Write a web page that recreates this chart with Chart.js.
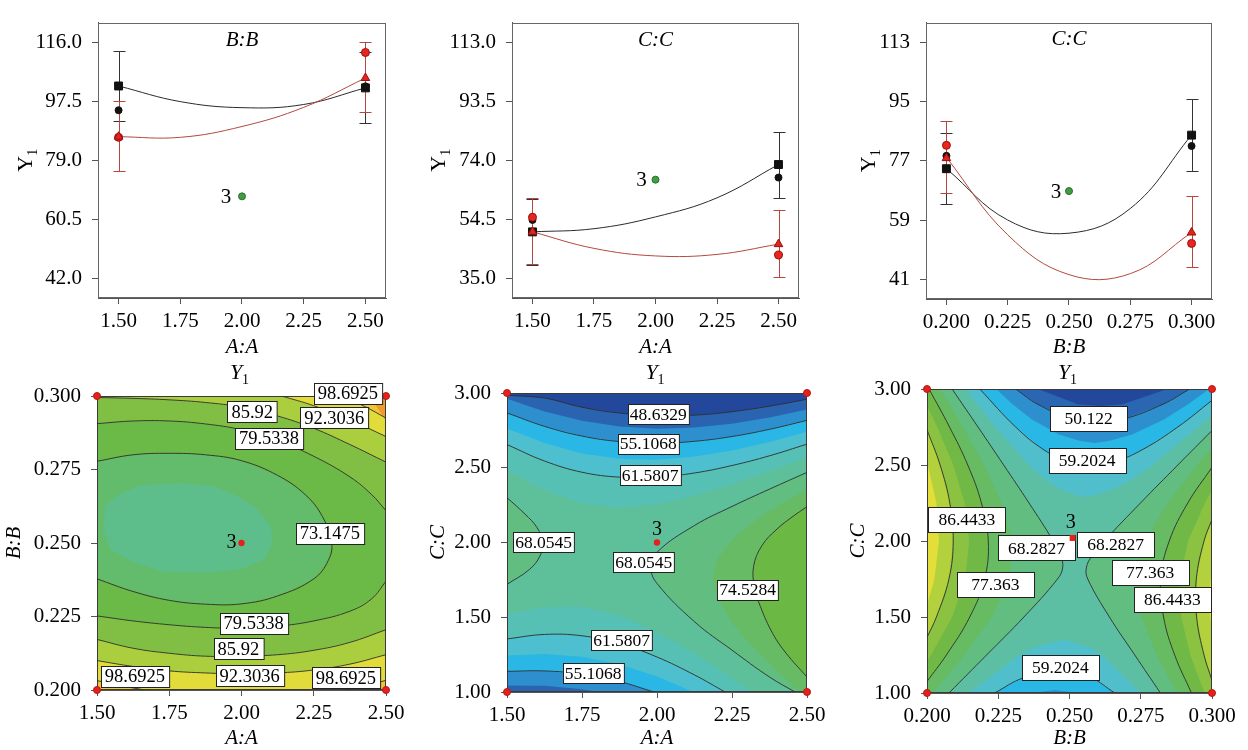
<!DOCTYPE html>
<html>
<head>
<meta charset="utf-8">
<title>Y1 response plots</title>
<script src="https://cdn.jsdelivr.net/npm/chart.js@4.4.1/dist/chart.umd.min.js"></script>
<style>
  html, body { margin: 0; padding: 0; background: #ffffff; }
  #page { position: relative; width: 1248px; height: 750px; overflow: hidden; }
  #page canvas { position: absolute; }
</style>
</head>
<body>
<div id="page">
  <canvas id="tl" width="416" height="360" style="left:0px;top:0px"></canvas>
  <canvas id="tm" width="416" height="360" style="left:416px;top:0px"></canvas>
  <canvas id="tr" width="416" height="360" style="left:832px;top:0px"></canvas>
  <canvas id="bl" width="416" height="390" style="left:0px;top:360px"></canvas>
  <canvas id="bm" width="416" height="390" style="left:416px;top:360px"></canvas>
  <canvas id="br" width="416" height="390" style="left:832px;top:360px"></canvas>
</div>
<script>
// ---------- axis ticks ----------
const A_TICKS = [1.5, 1.75, 2.0, 2.25, 2.5];
const B_TICKS = [0.2, 0.225, 0.25, 0.275, 0.3];
const C_TICKS = [1.0, 1.5, 2.0, 2.5, 3.0];

// ---------- top left : Y1 over A, B low (black) / B high (red) ----------
const TL_X = [1.5, 1.75, 2.0, 2.25, 2.5];
const TL_Y_TICKS = [42.0, 60.5, 79.0, 97.5, 116.0];
const TL_BLACK = [102.3, 97.4, 95.5, 96.5, 101.7];
const TL_RED = [86.4, 86.2, 89.6, 95.6, 104.8];
const TL_BLACK_SQ = [[1.5, 102.3], [2.5, 101.7]];
const TL_BLACK_DOT = [[1.5, 94.7], [2.5, 102.2]];
const TL_RED_DOT = [[1.5, 86.2], [2.5, 112.8]];
const TL_RED_TRI = [[1.5, 86.4], [2.5, 104.8]];
const TL_ERR_BLACK = [[1.5, 91.3, 113.2], [2.5, 90.8, 112.8]];
const TL_ERR_RED = [[1.5, 75.6, 97.5], [2.5, 94.1, 116.1]];
const TL_CENTER = [2.0, 67.7];

// ---------- top middle : Y1 over A, C low (black) / C high (red) ----------
const TM_X = [1.5, 1.75, 2.0, 2.25, 2.5];
const TM_Y_TICKS = [35.0, 54.5, 74.0, 93.5, 113.0];
const TM_BLACK = [50.35, 51.4, 55.3, 61.6, 72.6];
const TM_RED = [50.35, 44.9, 42.4, 42.9, 46.3];
const TM_BLACK_SQ = [[1.5, 50.35], [2.5, 72.6]];
const TM_BLACK_DOT = [[1.5, 54.3], [2.5, 68.3]];
const TM_RED_DOT = [[1.5, 55.2], [2.5, 42.7]];
const TM_RED_TRI = [[1.5, 50.35], [2.5, 46.3]];
const TM_ERR_BLACK = [[1.5, 39.5, 61.2], [2.5, 61.7, 83.5]];
const TM_ERR_RED = [[1.5, 39.7, 61.5], [2.5, 35.6, 57.5]];
const TM_CENTER = [2.0, 67.6];

// ---------- top right : Y1 over B, C low (black) / C high (red) ----------
const TR_X = [0.2, 0.225, 0.25, 0.275, 0.3];
const TR_Y_TICKS = [41, 59, 77, 95, 113];
const TR_BLACK = [74.6, 59.0, 55.0, 62.5, 84.8];
const TR_RED = [78.0, 54.5, 42.4, 42.7, 55.2];
const TR_BLACK_SQ = [[0.2, 74.6], [0.3, 84.8]];
const TR_BLACK_DOT = [[0.2, 78.5], [0.3, 81.5]];
const TR_RED_DOT = [[0.2, 81.7], [0.3, 51.9]];
const TR_RED_TRI = [[0.2, 77.8], [0.3, 55.2]];
const TR_ERR_BLACK = [[0.2, 63.8, 85.3], [0.3, 73.9, 95.8]];
const TR_ERR_RED = [[0.2, 67.2, 89.2], [0.3, 44.6, 66.45]];
const TR_CENTER = [0.25, 67.8];

// ---------- bottom left : contours of Y1 over A (x) and B (y) ----------
const BL_C73 = [[1.5,0.2778],[1.625,0.2800],[1.75,0.2805],[1.875,0.2800],[2.0,0.2780],[2.125,0.2730],[2.22,0.2665],[2.28,0.2590],[2.312,0.2500],[2.30,0.2440],[2.25,0.2378],[2.125,0.2320],[2.0,0.2293],[1.875,0.2292],[1.75,0.2305],[1.625,0.2335],[1.5,0.2378]];
const BL_C79_UP = [[1.5,0.2906],[1.625,0.2915],[1.75,0.2915],[1.875,0.2905],[2.0,0.2885],[2.125,0.2848],[2.25,0.2795],[2.375,0.2725],[2.45,0.2665],[2.5,0.2610]];
const BL_C79_LO = [[2.5,0.2370],[2.45,0.2310],[2.375,0.2268],[2.25,0.2235],[2.125,0.2217],[2.0,0.2210],[1.875,0.2213],[1.75,0.2222],[1.625,0.2235],[1.5,0.2252]];
const BL_C86_UP = [[1.5,0.2995],[1.625,0.2992],[1.75,0.2987],[1.875,0.2978],[2.0,0.2962],[2.125,0.2932],[2.25,0.2890],[2.375,0.2835],[2.5,0.2775]];
const BL_C86_LO = [[2.5,0.2205],[2.375,0.2162],[2.25,0.2135],[2.125,0.2120],[2.0,0.2115],[1.875,0.2115],[1.75,0.2125],[1.625,0.2142],[1.5,0.2172]];
const BL_C92_UP = [[2.139,0.3],[2.25,0.2967],[2.375,0.2919],[2.5,0.2862]];
const BL_C92_LO = [[2.5,0.2120],[2.375,0.2088],[2.25,0.2068],[2.125,0.2058],[2.0,0.2055],[1.875,0.2058],[1.75,0.2065],[1.625,0.2080],[1.5,0.2100]];
const BL_C98_TR = [[2.347,0.3],[2.425,0.2965],[2.5,0.2925]];
const BL_C98_BL = [[1.5,0.2032],[1.575,0.2016],[1.666,0.2]];
const BL_C98_BR = [[2.358,0.2],[2.425,0.2013],[2.5,0.2033]];
const BL_TEAL = [[1.523,0.2547],[1.529,0.2626],[1.569,0.2660],[1.65,0.2697],[1.789,0.2703],[1.905,0.2694],[1.986,0.2660],[2.055,0.2615],[2.101,0.2558],[2.107,0.2502],[2.078,0.2445],[1.997,0.2411],[1.882,0.2400],[1.731,0.2402],[1.627,0.2434],[1.546,0.2479]];
const BL_ORANGE = [[2.44,0.3],[2.5,0.3],[2.5,0.2915],[2.47,0.296]];
const BL_LABELS = [
  ['98.6925', 2.368, 0.3010], ['85.92', 2.037, 0.2946], ['92.3036', 2.321, 0.2926],
  ['79.5338', 2.095, 0.2857], ['73.1475', 2.306, 0.2532], ['79.5338', 2.042, 0.2227],
  ['85.92', 1.989, 0.2140], ['98.6925', 1.631, 0.2047], ['92.3036', 2.028, 0.2048],
  ['98.6925', 2.361, 0.2041]
];

// ---------- bottom middle : contours of Y1 over A (x) and C (y) ----------
const BM_C48 = [[1.5,2.985],[1.625,2.966],[1.75,2.905],[1.875,2.866],[2.0,2.852],[2.125,2.852],[2.25,2.875],[2.375,2.912],[2.5,2.958]];
const BM_C55_UP = [[1.5,2.867],[1.625,2.777],[1.75,2.712],[1.875,2.675],[2.0,2.664],[2.125,2.677],[2.25,2.709],[2.375,2.757],[2.5,2.817]];
const BM_C55_LO = [[1.5,1.138],[1.625,1.141],[1.75,1.119],[1.875,1.070],[1.99,1.0]];
const BM_C61_UP = [[1.5,2.655],[1.625,2.545],[1.75,2.470],[1.875,2.437],[2.0,2.437],[2.125,2.465],[2.25,2.515],[2.375,2.580],[2.5,2.658]];
const BM_C61_LO = [[1.5,1.355],[1.625,1.385],[1.75,1.376],[1.875,1.324],[2.0,1.234],[2.125,1.114],[2.227,1.0]];
const BM_C68_L = [[1.5,2.30],[1.56,2.19],[1.60,2.10],[1.62,2.0],[1.61,1.91],[1.575,1.82],[1.5,1.72]];
const BM_C68_R = [[2.5,2.469],[2.375,2.357],[2.25,2.241],[2.125,2.114],[2.0,1.935],[1.98,1.83],[2.0,1.726],[2.125,1.47],[2.25,1.28],[2.375,1.10],[2.46,1.0]];
const BM_C74 = [[2.5,2.24],[2.45,2.17],[2.4,2.09],[2.35,1.98],[2.322,1.84],[2.325,1.70],[2.345,1.57],[2.386,1.39],[2.43,1.26],[2.5,1.10]];
const BM_B52_UP = [[1.5,2.962],[1.625,2.876],[1.75,2.814],[1.875,2.776],[2.0,2.761],[2.125,2.769],[2.25,2.794],[2.375,2.836],[2.5,2.889]];
const BM_B52_LO = [[1.5,1.044],[1.625,1.042],[1.75,1.018],[1.803,1.0]];
const BM_B58_UP = [[1.5,2.762],[1.625,2.665],[1.75,2.596],[1.875,2.56],[2.0,2.554],[2.125,2.575],[2.25,2.616],[2.375,2.673],[2.5,2.74]];
const BM_B58_LO = [[1.5,1.2435],[1.625,1.254],[1.75,1.235],[1.875,1.185],[2.0,1.104],[2.121,1.0]];
const BM_B65_UP = [[1.5,2.485],[1.625,2.352],[1.75,2.262],[1.875,2.231],[2.0,2.256],[2.125,2.314],[2.25,2.39],[2.375,2.477],[2.5,2.568]];
const BM_B65_LO = [[1.5,1.521],[1.625,1.567],[1.75,1.570],[1.875,1.513],[2.0,1.402],[2.125,1.257],[2.25,1.094],[2.318,1.0]];
const BM_B71 = [[2.5,2.356],[2.375,2.21],[2.3125,2.125],[2.25,2.02],[2.2,1.884],[2.185,1.76],[2.2,1.635],[2.25,1.465],[2.3125,1.315],[2.375,1.187],[2.475,1.0]];
const BM_LABELS = [
  ['48.6329', 2.004, 2.858], ['55.1068', 1.971, 2.662], ['61.5807', 1.977, 2.452],
  ['68.0545', 1.622, 2.001], ['68.0545', 1.956, 1.868], ['74.5284', 2.302, 1.683],
  ['61.5807', 1.882, 1.347], ['55.1068', 1.787, 1.126]
];

// ---------- bottom right : contours of Y1 over B (x) and C (y) ----------
const BR_C50 = [[0.2311,3.0],[0.2388,2.9],[0.2515,2.8],[0.260,2.79],[0.2685,2.8],[0.2828,2.9],[0.2922,3.0]];
const BR_C59_UP = [[0.2185,3.0],[0.2311,2.75],[0.241,2.6],[0.2497,2.52],[0.2574,2.495],[0.2655,2.52],[0.2755,2.6],[0.288,2.75],[0.3,2.925]];
const BR_C59_LO = [[0.2237,1.0],[0.2339,1.1],[0.2455,1.14],[0.2573,1.1],[0.2659,1.0]];
const BR_C68_L = [[0.2088,3.0],[0.2179,2.75],[0.2269,2.5],[0.2358,2.25],[0.2443,2.0],[0.247,1.9],[0.2476,1.823],[0.2458,1.75],[0.234,1.5],[0.2209,1.25],[0.2077,1.0]];
const BR_C68_R = [[0.3,2.7265],[0.288,2.5],[0.2749,2.25],[0.2622,2.0],[0.2578,1.9],[0.2559,1.823],[0.2564,1.75],[0.264,1.5],[0.2729,1.25],[0.2819,1.0]];
const BR_C77_L = [[0.2007,3.0],[0.2079,2.75],[0.2143,2.5],[0.2191,2.25],[0.2215,2.0],[0.2202,1.75],[0.215,1.5],[0.2068,1.25],[0.2,1.076]];
const BR_C77_R = [[0.3,2.485],[0.2915,2.25],[0.285,2.0],[0.282,1.75],[0.283,1.5],[0.2869,1.25],[0.2928,1.0]];
const BR_C86_L = [[0.2,2.732],[0.2046,2.5],[0.208,2.25],[0.2092,2.0],[0.2077,1.75],[0.2033,1.5],[0.2,1.366]];
const BR_C86_R = [[0.3,2.142],[0.2972,2.0],[0.2945,1.75],[0.2946,1.5],[0.2972,1.25],[0.3,1.083]];
const BR_B46 = [[0.239,3.0],[0.2529,2.9],[0.261,2.888],[0.2687,2.9],[0.2843,3.0]];
const BR_B55 = [[0.2243,3.0],[0.23,2.9],[0.2368,2.8],[0.2463,2.7],[0.2535,2.66],[0.2588,2.645],[0.2641,2.66],[0.272,2.7],[0.2831,2.8],[0.2916,2.9],[0.299,3.0]];
const BR_B55_LO = [[0.2366,1.0],[0.245,1.02],[0.253,1.0]];
const BR_B64_UP = [[0.2134,3.0],[0.2239,2.75],[0.2357,2.5],[0.2418,2.4],[0.2457,2.35],[0.2528,2.3],[0.2558,2.29],[0.2587,2.3],[0.2666,2.35],[0.2714,2.4],[0.2791,2.5],[0.2952,2.75],[0.3,2.83]];
const BR_B64_LO = [[0.2146,1.0],[0.2324,1.25],[0.2373,1.3],[0.2478,1.352],[0.2574,1.3],[0.2614,1.25],[0.275,1.0]];
const BR_B73_L = [[0.2046,3.0],[0.2126,2.75],[0.22,2.5],[0.2262,2.25],[0.2299,2.0],[0.2289,1.75],[0.2228,1.5],[0.2131,1.25],[0.2019,1.0]];
const BR_B73_R = [[0.3,2.613],[0.2948,2.5],[0.2844,2.25],[0.2765,2.0],[0.2733,1.75],[0.2753,1.5],[0.2806,1.25],[0.2877,1.0]];
const BR_B82_L = [[0.2,2.889],[0.2036,2.75],[0.2092,2.5],[0.2132,2.25],[0.2148,2.0],[0.2134,1.75],[0.2088,1.5],[0.2014,1.25],[0.2,1.209]];
const BR_B82_R = [[0.3,2.334],[0.2975,2.25],[0.2916,2.0],[0.2888,1.75],[0.2892,1.5],[0.2924,1.25],[0.2974,1.0]];
const BR_B91_L = [[0.2,2.523],[0.2033,2.25],[0.2042,2.0],[0.2026,1.75],[0.2,1.575]];
const BR_B91_R = [[0.3,1.81],[0.2985,1.61],[0.3,1.415]];
const BR_LABELS = [
  ['50.122', 0.2567, 2.807], ['59.2024', 0.2562, 2.527], ['86.4433', 0.2140, 2.142],
  ['68.2827', 0.2384, 1.954], ['68.2827', 0.2662, 1.979], ['77.363', 0.2240, 1.712],
  ['77.363', 0.2783, 1.795], ['86.4433', 0.2861, 1.618], ['59.2024', 0.2468, 1.170]
];

// ---------- helpers ----------
const SERIF = "'Liberation Serif', 'Times New Roman', serif";
Chart.defaults.font.family = SERIF;
Chart.defaults.font.size = 21;
Chart.defaults.color = '#000';
Chart.defaults.animation = false;

const xy = arr => arr.map(p => ({x: p[0], y: p[1]}));
const pairs = (xs, ys) => xs.map((x, i) => ({x: x, y: ys[i]}));

function linAxis(range, ticks, dec, fitKey, fitSize) {
  return {
    type: 'linear', min: range[0], max: range[1],
    afterBuildTicks: s => { s.ticks = ticks.map(v => ({value: v})); },
    afterFit: s => { s[fitKey] = fitSize; },
    ticks: {callback: v => Number(v).toFixed(dec), autoSkip: false, maxRotation: 0, minRotation: 0,
            padding: fitKey === 'width' ? 10 : 5, color: '#000', font: {size: 21}},
    grid: {display: true, drawOnChartArea: false, drawTicks: true, tickLength: 6, tickColor: '#555'},
    border: {display: true, color: '#555', width: 1}
  };
}

function text(ctx, s, x, y, font, align) {
  ctx.font = font;
  ctx.textAlign = align || 'center';
  ctx.textBaseline = 'middle';
  ctx.fillStyle = '#000';
  ctx.fillText(s, x, y);
}

function rotText(ctx, s, x, y, font) {
  ctx.save();
  ctx.translate(x, y);
  ctx.rotate(-Math.PI / 2);
  text(ctx, s, 0, 0, font);
  ctx.restore();
}

// "Y" with a subscript 1
function yOne(ctx, x, y, rotate, italic) {
  ctx.save();
  ctx.translate(x, y);
  if (rotate) ctx.rotate(-Math.PI / 2);
  const big = (italic ? 'italic ' : '') + '22px ' + SERIF;
  const small = '14px ' + SERIF;
  ctx.font = big;
  const wY = ctx.measureText('Y').width;
  ctx.font = small;
  const w1 = ctx.measureText('1').width;
  const x0 = -(wY + w1) / 2;
  ctx.fillStyle = '#000';
  ctx.textAlign = 'left';
  ctx.textBaseline = 'alphabetic';
  ctx.font = big;
  ctx.fillText('Y', x0, 7);
  ctx.font = small;
  ctx.fillText('1', x0 + wY, 12);
  ctx.restore();
}

function frame(chart, color) {
  const {ctx, chartArea: a} = chart;
  ctx.save();
  ctx.strokeStyle = color;
  ctx.lineWidth = 1;
  ctx.strokeRect(Math.round(a.left) + 0.5, Math.round(a.top) + 0.5,
                 Math.round(a.right - a.left) - 1, Math.round(a.bottom - a.top) - 1);
  ctx.restore();
}

function errorBars(chart, bars, color) {
  const {ctx, scales} = chart;
  ctx.save();
  ctx.strokeStyle = color;
  ctx.lineWidth = 1;
  bars.forEach(b => {
    const px = Math.round(scales.x.getPixelForValue(b[0])) + 0.5;
    const lo = Math.round(scales.y.getPixelForValue(b[1])) + 0.5;
    const hi = Math.round(scales.y.getPixelForValue(b[2])) + 0.5;
    ctx.beginPath();
    ctx.moveTo(px, lo); ctx.lineTo(px, hi);
    ctx.moveTo(px - 6, lo); ctx.lineTo(px + 6, lo);
    ctx.moveTo(px - 6, hi); ctx.lineTo(px + 6, hi);
    ctx.stroke();
  });
  ctx.restore();
}

// ---------- top row ----------
function interactionPlot(p) {
  const deco = {
    id: 'deco',
    beforeDatasetsDraw(chart) {
      errorBars(chart, p.errBlack, '#333333');
      errorBars(chart, p.errRed, '#b5473f');
    },
    afterDraw(chart) {
      const {ctx, chartArea: a, scales} = chart;
      frame(chart, '#666');
      const cx = (a.left + a.right) / 2;
      text(ctx, p.title, cx, a.top + p.titleDy, 'italic 21px ' + SERIF);
      text(ctx, p.xTitle, cx, a.bottom + p.xTitleDy, 'italic 21px ' + SERIF);
      yOne(ctx, a.left - p.yTitleDx, (a.top + a.bottom) / 2, true, false);
      const px = scales.x.getPixelForValue(p.center[0]);
      const py = scales.y.getPixelForValue(p.center[1]);
      text(ctx, '3', px + p.threeDx, py + 1, '21px ' + SERIF);
    }
  };
  new Chart(document.getElementById(p.id), {
    type: 'scatter',
    data: {datasets: [
      {data: xy([p.center]), pointRadius: 3.5, backgroundColor: '#3f9e42', borderColor: '#2c6e2c', borderWidth: 1},
      {data: xy(p.tri), pointStyle: 'triangle', pointRadius: 5, backgroundColor: '#e2241c', borderColor: '#9a1010', borderWidth: 1},
      {data: xy(p.rdot), pointRadius: 4, backgroundColor: '#e8261f', borderColor: '#9a1010', borderWidth: 1},
      {data: xy(p.dot), pointRadius: 3.5, backgroundColor: '#111', borderColor: '#111', borderWidth: 1},
      {data: xy(p.sq), pointStyle: 'rect', pointRadius: 5.6, backgroundColor: '#111', borderColor: '#111', borderWidth: 1},
      {type: 'line', data: pairs(p.x, p.red), borderColor: '#b3483f', borderWidth: 1, pointRadius: 0, tension: 0.4, fill: false},
      {type: 'line', data: pairs(p.x, p.black), borderColor: '#2b2b2b', borderWidth: 1, pointRadius: 0, tension: 0.4, fill: false}
    ]},
    options: {
      responsive: false, animation: false,
      layout: {padding: {left: 0, top: p.box[1], right: p.box[2], bottom: 0}},
      plugins: {legend: {display: false}, tooltip: {enabled: false}},
      scales: {
        x: linAxis(p.xRange, p.xTicks, p.xDec, 'height', p.box[3]),
        y: linAxis(p.yRange, p.yTicks, p.yDec, 'width', p.box[0])
      }
    },
    plugins: [deco]
  });
}

[
  {id: 'tl', title: 'B:B', xTitle: 'A:A', x: TL_X, black: TL_BLACK, red: TL_RED, sq: TL_BLACK_SQ, dot: TL_BLACK_DOT,
   rdot: TL_RED_DOT, tri: TL_RED_TRI, errBlack: TL_ERR_BLACK, errRed: TL_ERR_RED, center: TL_CENTER,
   xRange: [1.41667, 2.58333], yRange: [35.83, 122.17], xTicks: A_TICKS, xDec: 2, yTicks: TL_Y_TICKS, yDec: 1,
   box: [98, 5, 30, 62], titleDy: 18, xTitleDy: 49, yTitleDx: 73, threeDx: -16},
  {id: 'tm', title: 'C:C', xTitle: 'A:A', x: TM_X, black: TM_BLACK, red: TM_RED, sq: TM_BLACK_SQ, dot: TM_BLACK_DOT,
   rdot: TM_RED_DOT, tri: TM_RED_TRI, errBlack: TM_ERR_BLACK, errRed: TM_ERR_RED, center: TM_CENTER,
   xRange: [1.41667, 2.58333], yRange: [28.5, 119.5], xTicks: A_TICKS, xDec: 2, yTicks: TM_Y_TICKS, yDec: 1,
   box: [96, 5, 33, 62], titleDy: 18, xTitleDy: 49, yTitleDx: 74, threeDx: -14},
  {id: 'tr', title: 'C:C', xTitle: 'B:B', x: TR_X, black: TR_BLACK, red: TR_RED, sq: TR_BLACK_SQ, dot: TR_BLACK_DOT,
   rdot: TR_RED_DOT, tri: TR_RED_TRI, errBlack: TR_ERR_BLACK, errRed: TR_ERR_RED, center: TR_CENTER,
   xRange: [0.191667, 0.308333], yRange: [35, 119], xTicks: B_TICKS, xDec: 3, yTicks: TR_Y_TICKS, yDec: 0,
   box: [94, 5, 36, 61], titleDy: 17, xTitleDy: 48, yTitleDx: 58, threeDx: -13}
].forEach(interactionPlot);

// ---------- bottom row ----------
function contourPlot(p) {
  const path = (chart, pts) => {
    const {ctx, scales} = chart;
    ctx.beginPath();
    pts.forEach((q, i) => {
      const px = scales.x.getPixelForValue(q[0]);
      const py = scales.y.getPixelForValue(q[1]);
      if (i === 0) ctx.moveTo(px, py); else ctx.lineTo(px, py);
    });
    ctx.closePath();
  };
  const deco = {
    id: 'deco',
    beforeDatasetsDraw(chart) {
      const {ctx, chartArea: a} = chart;
      ctx.save();
      ctx.beginPath();
      ctx.rect(a.left, a.top, a.right - a.left, a.bottom - a.top);
      ctx.clip();
      p.bands.forEach(b => { path(chart, b[1]); ctx.fillStyle = b[0]; ctx.fill(); });
      ctx.restore();
      frame(chart, '#3a3a3a');
    },
    afterDatasetsDraw(chart) {
      const {ctx, scales} = chart;
      ctx.save();
      p.labels.forEach(l => {
        const px = scales.x.getPixelForValue(l[1]);
        const py = scales.y.getPixelForValue(l[2]);
        ctx.font = p.labelFont + 'px ' + SERIF;
        const w = p.labelW || (ctx.measureText(l[0]).width + 2 * p.labelPad);
        const h = p.labelH;
        const left = Math.round(px - w / 2) + 0.5, top = Math.round(py - h / 2) + 0.5;
        ctx.fillStyle = '#fff';
        ctx.fillRect(left, top, w, h);
        ctx.strokeStyle = '#222';
        ctx.lineWidth = 1;
        ctx.strokeRect(left, top, w, h);
        text(ctx, l[0], px, py + 1, p.labelFont + 'px ' + SERIF);
      });
      // centre run of the design, drawn on top of the labels
      const cx = scales.x.getPixelForValue(p.center[0]);
      const cy = scales.y.getPixelForValue(p.center[1]);
      ctx.fillStyle = '#e3211d';
      ctx.beginPath();
      if (p.centerStyle === 'rect') ctx.rect(cx - 3, cy - 3, 6, 6);
      else ctx.arc(cx, cy, 3.2, 0, Math.PI * 2);
      ctx.fill();
      text(ctx, '3', cx + p.three[0], cy + p.three[1], '20px ' + SERIF);
      ctx.restore();
    },
    afterDraw(chart) {
      const {ctx, chartArea: a} = chart;
      const cx = (a.left + a.right) / 2;
      yOne(ctx, cx - 2, a.top - p.topDy, false, true);
      text(ctx, p.xTitle, cx, a.bottom + p.xTitleDy, 'italic 21px ' + SERIF);
      rotText(ctx, p.yTitle, a.left - p.yTitleDx, (a.top + a.bottom) / 2, 'italic 21px ' + SERIF);
    }
  };
  const corners = [[p.xRange[0], p.yRange[0]], [p.xRange[0], p.yRange[1]], [p.xRange[1], p.yRange[0]], [p.xRange[1], p.yRange[1]]];
  new Chart(document.getElementById(p.id), {
    type: 'scatter',
    data: {datasets: [
      {data: xy(corners), pointRadius: 3.5, backgroundColor: '#e3211d', borderColor: '#c01515', borderWidth: 1, clip: false}
    ].concat(p.lines.map(l => ({
      type: 'line', data: xy(l), borderColor: '#2e2e2e', borderWidth: 0.9, pointRadius: 0, tension: 0.4, fill: false
    })))},
    options: {
      responsive: false, animation: false,
      layout: {padding: {left: 0, top: p.box[1], right: p.box[2], bottom: 0}},
      plugins: {legend: {display: false}, tooltip: {enabled: false}},
      scales: {
        x: linAxis(p.xRange, p.xTicks, p.xDec, 'height', p.box[3]),
        y: linAxis(p.yRange, p.yTicks, p.yDec, 'width', p.box[0])
      }
    },
    plugins: [deco]
  });
}

contourPlot({
  id: 'bl', xTitle: 'A:A', yTitle: 'B:B', xRange: [1.5, 2.5], yRange: [0.2, 0.3],
  xTicks: A_TICKS, xDec: 2, yTicks: B_TICKS, yDec: 3, box: [97, 36, 30, 60],
  topDy: 24, xTitleDy: 48, yTitleDx: 83, center: [2.0, 0.25], centerStyle: 'circle', three: [-10, 0],
  labels: BL_LABELS, labelFont: 18.5, labelPad: 4, labelH: 21,
  lines: [BL_C73, BL_C79_UP, BL_C79_LO, BL_C86_UP, BL_C86_LO, BL_C92_UP, BL_C92_LO, BL_C98_TR, BL_C98_BL, BL_C98_BR],
  bands: [
    ['#e2dc3a', [[1.5, 0.2], [1.5, 0.3], [2.5, 0.3], [2.5, 0.2]]],
    ['#efc436', BL_C98_TR.concat([[2.5, 0.3]])],
    ['#efc436', BL_C98_BL.concat([[1.5, 0.2]])],
    ['#efc436', BL_C98_BR.concat([[2.5, 0.2]])],
    ['#f19a2c', BL_ORANGE],
    ['#abce3e', [[1.5, 0.3]].concat(BL_C92_UP, BL_C92_LO)],
    ['#80bf44', BL_C86_UP.concat(BL_C86_LO)],
    ['#6bb947', BL_C79_UP.concat(BL_C79_LO)],
    ['#63bc6c', BL_C73],
    ['#5ebe8b', BL_TEAL]
  ]
});

contourPlot({
  id: 'bm', xTitle: 'A:A', yTitle: 'C:C', xRange: [1.5, 2.5], yRange: [1.0, 3.0],
  xTicks: A_TICKS, xDec: 2, yTicks: C_TICKS, yDec: 2, box: [91, 33, 25, 58],
  topDy: 21, xTitleDy: 46, yTitleDx: 69, center: [2.0, 2.0], centerStyle: 'circle', three: [0, -13],
  labels: BM_LABELS, labelFont: 17.5, labelPad: 2, labelH: 20,
  lines: [BM_C48, BM_C55_UP, BM_C55_LO, BM_C61_UP, BM_C61_LO, BM_C68_L, BM_C68_R, BM_C74],
  bands: [
    ['#5ebf9b', [[1.5, 1.0], [1.5, 3.0], [2.5, 3.0], [2.5, 1.0]]],
    ['#57c0b5', [[1.5, 3.0]].concat(BM_B65_UP, [[2.5, 3.0]])],
    ['#57c0b5', BM_B65_LO.concat([[1.5, 1.0]])],
    ['#4dbfcf', [[1.5, 3.0]].concat(BM_C61_UP, [[2.5, 3.0]])],
    ['#4dbfcf', BM_C61_LO.concat([[1.5, 1.0]])],
    ['#2ab7e5', [[1.5, 3.0]].concat(BM_B58_UP, [[2.5, 3.0]])],
    ['#2ab7e5', BM_B58_LO.concat([[1.5, 1.0]])],
    ['#2e8fce', [[1.5, 3.0]].concat(BM_C55_UP, [[2.5, 3.0]])],
    ['#2e8fce', BM_C55_LO.concat([[1.5, 1.0]])],
    ['#2a64b0', [[1.5, 3.0]].concat(BM_B52_UP, [[2.5, 3.0]])],
    ['#2a64b0', BM_B52_LO.concat([[1.5, 1.0]])],
    ['#23489b', [[1.5, 3.0]].concat(BM_C48, [[2.5, 3.0]])],
    ['#62bd80', BM_C68_L],
    ['#62bd80', BM_C68_R.concat([[2.5, 1.0]])],
    ['#67bb64', BM_B71.concat([[2.5, 1.0]])],
    ['#6cb845', BM_C74]
  ]
});

contourPlot({
  id: 'br', xTitle: 'B:B', yTitle: 'C:C', xRange: [0.2, 0.3], yRange: [1.0, 3.0],
  xTicks: B_TICKS, xDec: 3, yTicks: C_TICKS, yDec: 2, box: [95, 29, 36, 57],
  topDy: 17, xTitleDy: 45, yTitleDx: 69, center: [0.2511, 2.02], centerStyle: 'rect', three: [-2, -15],
  labels: BR_LABELS, labelFont: 17.5, labelPad: 14, labelH: 25, labelW: 77,
  lines: [BR_C50, BR_C59_UP, BR_C59_LO, BR_C68_L, BR_C68_R, BR_C77_L, BR_C77_R, BR_C86_L, BR_C86_R],
  bands: [
    ['#5cbfa3', [[0.2, 1.0], [0.2, 3.0], [0.3, 3.0], [0.3, 1.0]]],
    ['#50bfcb', BR_B64_UP.concat([[0.3, 3.0]])],
    ['#50bfcb', BR_B64_LO],
    ['#29b7e5', BR_C59_UP.concat([[0.3, 3.0]])],
    ['#29b7e5', BR_C59_LO],
    ['#2d8fce', BR_B55],
    ['#2d8fce', BR_B55_LO],
    ['#2a66b1', BR_C50],
    ['#23489b', BR_B46],
    ['#62bd80', [[0.2, 3.0]].concat(BR_C68_L, [[0.2, 1.0]])],
    ['#62bd80', BR_C68_R.concat([[0.3, 1.0]])],
    ['#67bb62', [[0.2, 3.0]].concat(BR_B73_L, [[0.2, 1.0]])],
    ['#67bb62', BR_B73_R.concat([[0.3, 1.0]])],
    ['#70b946', [[0.2, 3.0]].concat(BR_C77_L)],
    ['#70b946', BR_C77_R.concat([[0.3, 1.0]])],
    ['#8cc242', BR_B82_L],
    ['#8cc242', BR_B82_R.concat([[0.3, 1.0]])],
    ['#b3d03d', BR_C86_L],
    ['#b3d03d', BR_C86_R],
    ['#e3de3a', BR_B91_L],
    ['#e3de3a', BR_B91_R]
  ]
});
</script>
</body>
</html>
